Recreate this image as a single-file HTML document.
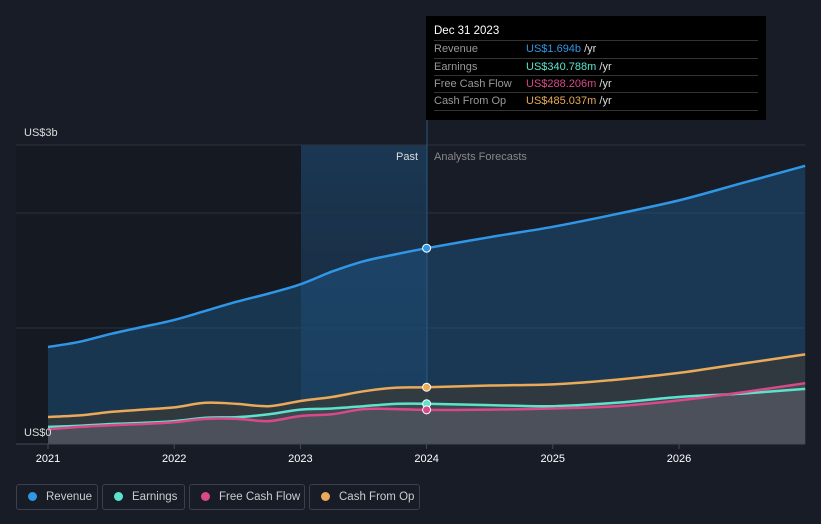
<!DOCTYPE html>
<html><head><meta charset="utf-8"><style>
body{margin:0;background:#171c27;font-family:"Liberation Sans",sans-serif;}
#wrap{position:relative;width:821px;height:524px;overflow:hidden;}
.tt{position:absolute;left:426px;top:16px;width:340px;height:104px;background:#000;color:#ddd;font-size:11px;}
.tt .h{position:absolute;left:8px;top:9px;color:#fff;font-size:11.5px;}
.tt .r{position:absolute;left:8px;width:324px;height:17px;border-top:1px solid #333;line-height:17px;}
.tt .r span.l{color:#999;display:inline-block;width:92px;}
.leg{position:absolute;top:484px;height:26px;border:1px solid #3a404c;border-radius:3px;color:#ccc;font-size:11.5px;line-height:24px;box-sizing:border-box;white-space:nowrap;overflow:hidden;}
.leg i{display:inline-block;width:9px;height:9px;border-radius:50%;margin:0 9px 0 11px;vertical-align:-1px;}
</style></head><body>
<div id="wrap">
<svg id="chart" width="821" height="524" style="position:absolute;left:0;top:0"></svg>
<div class="tt">
<div class="h">Dec 31 2023</div>
<div class="r" style="top:24px"><span class="l">Revenue</span><span style="color:#2f97e6">US$1.694b</span> /yr</div>
<div class="r" style="top:42px"><span class="l">Earnings</span><span style="color:#5de3cd">US$340.788m</span> /yr</div>
<div class="r" style="top:59px"><span class="l">Free Cash Flow</span><span style="color:#d9498a">US$288.206m</span> /yr</div>
<div class="r" style="top:76px;border-bottom:1px solid #333"><span class="l">Cash From Op</span><span style="color:#eaaa59">US$485.037m</span> /yr</div>
</div>
<div class="leg" style="left:16px;width:82px"><i style="background:#2f97e6"></i>Revenue</div>
<div class="leg" style="left:102px;width:83px"><i style="background:#5de3cd"></i>Earnings</div>
<div class="leg" style="left:189px;width:116px"><i style="background:#d9498a"></i>Free Cash Flow</div>
<div class="leg" style="left:309px;width:111px"><i style="background:#eaaa59"></i>Cash From Op</div>
</div>
<script>
const years=[2021,2021.25,2021.5,2021.75,2022,2022.25,2022.5,2022.75,2023,2023.25,2023.5,2023.75,2024,2024.5,2025,2025.5,2026,2026.5,2027];
const revenue=[0.835,0.88,0.95,1.01,1.07,1.15,1.23,1.30,1.38,1.49,1.58,1.64,1.694,1.79,1.88,1.99,2.11,2.26,2.41];
const earnings=[0.14,0.15,0.165,0.175,0.19,0.22,0.225,0.25,0.29,0.30,0.32,0.34,0.341,0.33,0.32,0.35,0.40,0.43,0.47];
const fcf=[0.12,0.14,0.155,0.165,0.18,0.21,0.21,0.19,0.235,0.25,0.295,0.295,0.288,0.29,0.30,0.32,0.37,0.44,0.52];
const cfo=[0.226,0.24,0.27,0.29,0.31,0.35,0.34,0.32,0.365,0.40,0.45,0.48,0.485,0.50,0.51,0.55,0.61,0.69,0.77];
const xTicks=[2021,2022,2023,2024,2025,2026];
const X=v=>48+(v-2021)*126.2, Y=v=>443-v*115;
const s=document.getElementById('chart'),NS='http://www.w3.org/2000/svg';
function add(t,a,name){const e=document.createElementNS(NS,t);for(const k in a)e.setAttribute(k,a[k]);


s.appendChild(e);return e;}
add('rect',{x:16,y:145,width:285,height:299,fill:'#141922'},'past-background');
const g=add('linearGradient',{id:'pg',x1:0,y1:0,x2:0,y2:1},'past-gradient');
g.innerHTML='<stop offset="0" stop-color="#1b3a58" stop-opacity="0.9"/><stop offset="1" stop-color="#1b3a58" stop-opacity="0.3"/>';
add('rect',{x:301,y:145,width:126,height:299,fill:'url(#pg)'},'past-highlight');
[145,213,328].forEach((y,i)=>add('line',{x1:16,x2:805,y1:y,y2:y,stroke:'#2c323d'},'gridline-'+i));
add('line',{x1:427,x2:427,y1:120,y2:444,stroke:'#2a5a80'},'today-line');
function path(d){const p=d.map((v,i)=>[X(years[i]),Y(v)]);let s='M'+p[0][0].toFixed(1)+','+p[0][1].toFixed(1);
for(let i=0;i<p.length-1;i++){const p0=p[Math.max(0,i-1)],p1=p[i],p2=p[i+1],p3=p[Math.min(p.length-1,i+2)];
const c1=[p1[0]+(p2[0]-p0[0])/6,p1[1]+(p2[1]-p0[1])/6],c2=[p2[0]-(p3[0]-p1[0])/6,p2[1]-(p3[1]-p1[1])/6];
s+='C'+c1.map(n=>n.toFixed(1))+' '+c2.map(n=>n.toFixed(1))+' '+p2.map(n=>n.toFixed(1));}return s;}
function area(d,fill,op,name){add('path',{d:path(d)+'L'+X(years[years.length-1])+',444L'+X(years[0])+',444Z',fill:fill,'fill-opacity':op},name);}
area(revenue,'#1e5a8c',0.45,'revenue-area');
area(cfo,'#3a3a36',0.7,'cfo-area');
area(earnings,'#4a5560',0.5,'earnings-area');
area(fcf,'#5a5a66',0.5,'fcf-area');
[[revenue,'#2f97e6','revenue-line'],[cfo,'#eaaa59','cfo-line'],[earnings,'#5de3cd','earnings-line'],[fcf,'#d9498a','fcf-line']].forEach(([d,c,n])=>{
add('path',{d:path(d),fill:'none',stroke:c,'stroke-width':2.5},n);
add('circle',{cx:X(2024),cy:Y(d[12]),r:4,fill:c,stroke:'#fff','stroke-width':1},n+'-marker');});
add('line',{x1:16,x2:805,y1:444,y2:444,stroke:'#444a55'},'x-axis-line');
xTicks.forEach(t=>{add('line',{x1:X(t),x2:X(t),y1:444,y2:449,stroke:'#444a55'},'x-tick-'+t);
const e=add('text',{x:X(t),y:462,fill:'#fff','font-size':11,'text-anchor':'middle'},'x-label-'+t);e.textContent=t;});
let e=add('text',{x:24,y:136,fill:'#ddd','font-size':11},'y-label-3b');e.textContent='US$3b';
e=add('text',{x:24,y:436,fill:'#ddd','font-size':11},'y-label-0');e.textContent='US$0';
e=add('text',{x:418,y:160,fill:'#ddd','font-size':11,'text-anchor':'end'},'past-label');e.textContent='Past';
e=add('text',{x:434,y:160,fill:'#888','font-size':11},'forecast-label');e.textContent='Analysts Forecasts';
</script></body></html>
